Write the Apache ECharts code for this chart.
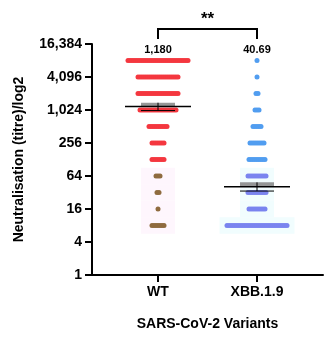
<!DOCTYPE html>
<html><head><meta charset="utf-8">
<script src="https://cdn.jsdelivr.net/npm/echarts@6/dist/echarts.min.js"></script>
<style>html,body{margin:0;padding:0;background:#fff}#c{width:335px;height:338px}</style>
</head><body><div id="c"></div>
<script>
// ---- data ----
const groups = ['WT', 'XBB.1.9'];
const titreLevels = [8192, 4096, 2048, 1024, 512, 256, 128, 64, 32, 16, 8];
const wtCounts = [31, 21, 21, 19, 10, 7, 7, 3, 2, 1, 7];
const xbbCounts = [1, 1, 2, 3, 5, 8, 9, 10, 10, 9, 31];
const means = [1180, 40.69];
const semUpper = [1390, 49];
const semLower = [1000, 34];
const meanLabels = ['1,180', '40.69'];
const yTicks = [1, 4, 16, 64, 256, 1024, 4096, 16384];
const significance = '**';
const lowThreshold = 64;

// ---- layout ----
const FONT = "'Liberation Sans', Arial, sans-serif";
const grid = {left: 92, right: 12, top: 44, bottom: 63};
const slots = 7;                       // x axis spans 0..7
const groupX = [2, 5];
const unitPx = (335 - grid.left - grid.right) / slots;
const dotStepPx = 2;

function rows(counts, gx, low) {
  const out = [];
  titreLevels.forEach((t, i) => {
    const isLow = t <= lowThreshold;
    if (isLow !== low) return;
    const n = counts[i];
    for (let k = 0; k < n; k++) {
      const off = (k - (n - 1) / 2) * dotStepPx / unitPx;
      out.push([gx + off, t]);
    }
  });
  return out;
}

const cats = [];
for (let i = 0; i <= slots; i++) {
  const gi = groupX.indexOf(i);
  cats.push(gi >= 0 ? groups[gi] : '');
}

const chart = echarts.init(document.getElementById('c'), null, {renderer: 'canvas'});
const dot = (name, data, color) => ({
  type: 'scatter', name, data, xAxisIndex: 1, yAxisIndex: 0,
  symbol: 'circle', symbolSize: 5, itemStyle: {color, opacity: 1}, silent: true, z: 2
});

// faint halo behind the low rows of each group
const haloData = [];
[wtCounts, xbbCounts].forEach((counts, g) => {
  titreLevels.forEach((t, i) => {
    if (t <= lowThreshold) haloData.push([groupX[g], t, counts[i], g]);
  });
});

chart.setOption({
  animation: false,
  grid: grid,
  xAxis: [{
    type: 'category', data: cats, boundaryGap: false,
    axisLine: {lineStyle: {color: '#000', width: 2}},
    axisTick: {length: 7, lineStyle: {color: '#000', width: 2}, interval: (i, v) => v !== ''},
    axisLabel: {interval: 0, color: '#000', fontFamily: FONT, fontWeight: 'bold', fontSize: 14, margin: 10},
    name: 'SARS-CoV-2 Variants', nameLocation: 'middle', nameGap: 42,
    nameTextStyle: {color: '#000', fontFamily: FONT, fontWeight: 'bold', fontSize: 14},
    splitLine: {show: false}
  }, {
    type: 'value', min: 0, max: slots, show: false
  }],
  yAxis: {
    type: 'log', logBase: 2, min: yTicks[0], max: yTicks[yTicks.length - 1], interval: 2,
    axisLine: {show: true, lineStyle: {color: '#000', width: 2}},
    axisTick: {show: true, length: 7, lineStyle: {color: '#000', width: 2}},
    axisLabel: {color: '#000', fontFamily: FONT, fontWeight: 'bold', fontSize: 14, margin: 10,
      formatter: v => Math.round(v).toLocaleString('en-US')},
    splitLine: {show: false},
    name: 'Neutralisation (titre)/log2', nameLocation: 'middle', nameGap: 66, nameRotate: 90,
    nameTextStyle: {color: '#000', fontFamily: FONT, fontWeight: 'bold', fontSize: 14}
  },
  series: [
    {
      type: 'custom', xAxisIndex: 1, yAxisIndex: 0, z: 1, silent: true, data: haloData,
      renderItem: (params, api) => {
        const c = api.coord([api.value(0), api.value(1)]);
        const n = api.value(2);
        const w = Math.max(34, (n - 1) * dotStepPx + 5 + 10);
        return {type: 'rect', shape: {x: c[0] - w / 2, y: c[1] - 8.25, width: w, height: 16.5},
          style: {fill: api.value(3) === 0 ? '#fef6fd' : '#f1fdfe'}};
      }
    },
    dot('WT', rows(wtCounts, groupX[0], false), '#f4373f'),
    dot('WT low', rows(wtCounts, groupX[0], true), '#8f6b3f'),
    dot('XBB', rows(xbbCounts, groupX[1], false), '#519df0'),
    dot('XBB low', rows(xbbCounts, groupX[1], true), '#7a84ef'),
    {
      type: 'custom', xAxisIndex: 1, yAxisIndex: 0, z: 5, silent: true,
      data: groupX.map((x, i) => [x, means[i], semUpper[i], semLower[i]]),
      renderItem: (params, api) => {
        const x = api.value(0);
        const m = api.coord([x, api.value(1)]);
        const u = api.coord([x, api.value(2)]);
        const l = api.coord([x, api.value(3)]);
        const half = 33, cap = 17;
        return {type: 'group', children: [
          {type: 'rect', shape: {x: m[0] - cap, y: u[1], width: cap * 2, height: m[1] - u[1]},
            style: {fill: 'rgba(125,125,125,0.8)'}},
          {type: 'line', shape: {x1: m[0], y1: u[1], x2: m[0], y2: l[1]}, style: {stroke: '#000', lineWidth: 1}},
          {type: 'line', shape: {x1: m[0] - cap, y1: l[1], x2: m[0] + cap, y2: l[1]}, style: {stroke: '#000', lineWidth: 1}},
          {type: 'line', shape: {x1: m[0] - half, y1: m[1], x2: m[0] + half, y2: m[1]}, style: {stroke: '#000', lineWidth: 1.5}}
        ]};
      }
    }
  ]
});

// annotations placed from axis coordinates
const topY = chart.convertToPixel({yAxisIndex: 0}, yTicks[yTicks.length - 1]);
const px = groupX.map(x => chart.convertToPixel({xAxisIndex: 1}, x));
const graphics = [];
px.forEach((x, i) => {
  graphics.push({type: 'text', x: x, y: topY + 6, style: {text: meanLabels[i], textAlign: 'center', textVerticalAlign: 'middle',
    font: "bold 11px 'Liberation Sans', Arial, sans-serif", fill: '#000'}});
});
const by = topY - 15;
graphics.push({type: 'polyline', shape: {points: [[px[0], topY - 5], [px[0], by], [px[1], by], [px[1], topY - 5]]},
  style: {stroke: '#000', lineWidth: 2, fill: null}});
graphics.push({type: 'text', x: (px[0] + px[1]) / 2, y: by - 10, style: {text: significance, textAlign: 'center', textVerticalAlign: 'middle',
  font: "bold 17px 'Liberation Sans', Arial, sans-serif", fill: '#000'}});
chart.setOption({graphic: graphics});
</script>
</body></html>
